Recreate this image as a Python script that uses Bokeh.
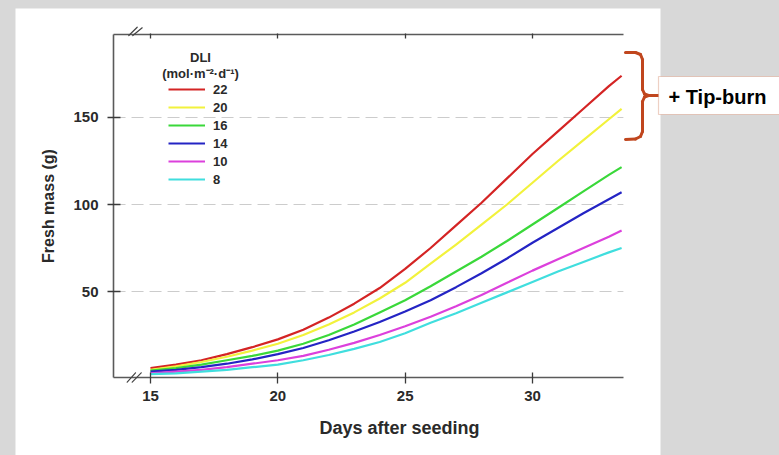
from bokeh.plotting import figure
from bokeh.models import (Range1d, LinearAxis, FixedTicker, Legend, LegendItem, Label,
                          BoxAnnotation, Arrow, GlobalInlineStyleSheet)
from bokeh.embed import file_html
from bokeh.resources import INLINE

# ---- data ----
days = [15, 16, 17, 18, 19, 20, 21, 22, 23, 24, 25, 26, 27, 28, 29, 30, 31, 32, 33, 33.5]
dli22 = [6, 8, 10.5, 14, 18, 22.5, 28, 35, 43, 52, 63, 75, 88, 101, 115, 129, 142, 155, 168, 174]
dli20 = [5, 7, 9.5, 12.5, 16, 20, 25, 31, 38, 46, 55, 66, 77, 88.5, 100, 112.5, 125, 137, 149, 155]
dli16 = [4.5, 6, 8, 10.5, 13, 16, 20, 25, 31, 38, 45, 53, 61.5, 70, 79, 88.5, 98, 107.5, 117, 121.5]
dli14 = [4, 5, 6.5, 8.5, 11, 14, 17.5, 22, 27, 32.5, 38.5, 45, 52.5, 60.5, 69, 78, 86.5, 95, 103, 107]
dli10 = [3, 4, 5, 6.5, 8.5, 10.5, 13, 16.5, 20.5, 25, 30, 35.5, 41.5, 48, 55, 62, 68.5, 75, 81.5, 85]
dli8 = [2.5, 3, 4, 5, 6.5, 8, 10.5, 13.5, 17, 21, 26, 32, 37.5, 43.5, 49.5, 55.5, 61.5, 67, 72.5, 75]
series_labels = ["22", "20", "16", "14", "10", "8"]
series_values = [dli22, dli20, dli16, dli14, dli10, dli8]
series_colors = ["#d42424", "#f2f23c", "#3ad83a", "#2424c4", "#dc40dc", "#40dede"]
x_ticks = [15, 20, 25, 30]
y_ticks = [50, 100, 150]
x_lo, x_hi = 13.55, 33.57      # extent of the drawn axes
y_lo, y_hi = 0.6, 197.7
x_title = "Days after seeding"
y_title = "Fresh mass (g)"
legend_title = ["DLI", "(mol·m⁻²·d⁻¹)"]
callout_text = "+ Tip-burn"

FONT = "Liberation Sans"
TXT = "#2a2a2a"
AX = "#5a5a5a"
BG = "#d8d8d8"
W, H = 779, 455

# the frame covers the whole canvas; axes are pinned at fixed locations inside it
p = figure(frame_width=W, frame_height=H, output_backend="svg", toolbar_location=None,
           x_range=Range1d(9.111, 39.70), y_range=Range1d(-44.25, 217.24),
           min_border=0, border_fill_color=BG, background_fill_color=BG,
           outline_line_color=None, x_axis_location=None, y_axis_location=None)
p.stylesheets = [GlobalInlineStyleSheet(css="body{background:%s;}" % BG)]
p.xgrid.visible = False
p.ygrid.visible = False

# white panel behind the chart (screen px from bottom-left of canvas)
panel = BoxAnnotation(left=15, right=660, top=H - 8, bottom=-10,
                      left_units="screen", right_units="screen", top_units="screen", bottom_units="screen",
                      fill_color="white", fill_alpha=1, line_color=None, level="image")
p.add_layout(panel)

def style_axis(ax):
    ax.axis_line_color = AX
    ax.axis_line_width = 1.6
    ax.major_tick_line_color = "#3a3a3a"
    ax.major_tick_line_width = 1.3
    ax.minor_tick_line_color = None
    ax.major_label_text_font = FONT
    ax.major_label_text_font_style = "bold"
    ax.major_label_text_font_size = "15px"
    ax.major_label_text_color = TXT
    ax.axis_label_text_font = FONT
    ax.axis_label_text_font_style = "bold"
    ax.axis_label_text_color = TXT

xb = LinearAxis(ticker=FixedTicker(ticks=x_ticks), fixed_location=y_lo, bounds=(x_lo, x_hi))
style_axis(xb)
xb.major_tick_in = 5
xb.major_tick_out = 6
xb.major_label_standoff = 8
p.add_layout(xb, "below")

xt = LinearAxis(ticker=FixedTicker(ticks=x_ticks), fixed_location=y_hi, bounds=(x_lo, x_hi),
                major_label_overrides={t: "" for t in x_ticks})
style_axis(xt)
xt.major_tick_in = 4
xt.major_tick_out = 1
p.add_layout(xt, "above")

yl = LinearAxis(ticker=FixedTicker(ticks=y_ticks), fixed_location=x_lo, bounds=(y_lo, y_hi),
                axis_label=y_title)
style_axis(yl)
yl.major_tick_in = 7
yl.major_tick_out = 6
yl.major_label_standoff = 9
yl.axis_label_standoff = 13
yl.axis_label_text_font_size = "16px"
p.add_layout(yl, "left")

# x-axis title (off-centre in the reference)
p.add_layout(Label(x=399, y=H - 427, x_units="screen", y_units="screen", text=x_title,
                   text_align="center", text_baseline="middle", text_font=FONT,
                   text_font_style="bold", text_font_size="18px", text_color=TXT))

# dashed horizontal gridlines across the plotting area
p.segment(x0=[x_lo] * len(y_ticks), x1=[x_hi] * len(y_ticks), y0=y_ticks, y1=y_ticks,
          line_color="#cccccc", line_dash="12 6", line_width=1)

# curves
items = []
for lab, vals, col in zip(series_labels, series_values, series_colors):
    r = p.line(days, vals, line_color=col, line_width=2.2, line_join="round")
    items.append(LegendItem(label=lab, renderers=[r]))

legend = Legend(items=items, location=(168, 267), border_line_color=None,
                background_fill_alpha=0, padding=0, margin=0, spacing=0,
                glyph_width=37, glyph_height=18, label_height=18, label_standoff=8,
                label_text_font=FONT, label_text_font_style="bold",
                label_text_font_size="13px", label_text_color=TXT)
p.add_layout(legend)

for t, py in zip(legend_title, [56.7, 73.3]):
    p.add_layout(Label(x=200, y=H - py, x_units="screen", y_units="screen", text=t,
                       text_align="center", text_baseline="middle", text_font=FONT,
                       text_font_style="bold", text_font_size="13px", text_color=TXT))

def seg(a, b, color, width):
    p.add_layout(Arrow(x_start=a[0], y_start=H - a[1], x_end=b[0], y_end=H - b[1],
                       start_units="screen", end_units="screen", end=None,
                       line_color=color, line_width=width, line_cap="round", line_join="round"))

# axis break marks (page px)
for a, b in [((126.7, 381.7), (135, 372.3)), ((131.7, 381.7), (140.7, 372.3)),
             ((128.3, 35), (136.7, 26.7)), ((132.3, 35), (141.7, 27.3))]:
    seg(a, b, "#444444", 1.2)

# bracket + callout
bracket = [[(625, 52), (635, 52), (640, 54), (642, 59), (642, 89), (644, 93.5), (648, 95), (658, 95)],
           [(648, 95), (644, 96.5), (642, 101), (642, 131), (640, 136), (635, 138.5), (625, 139)]]
BR = "#c0461e"
for path in bracket:
    for a, b in zip(path[:-1], path[1:]):
        seg(a, b, BR, 3)

box = BoxAnnotation(left=658, right=800, top=H - 76, bottom=H - 114,
                    left_units="screen", right_units="screen", top_units="screen", bottom_units="screen",
                    fill_color="white", fill_alpha=1, line_color="#c8643c", line_width=1.2,
                    level="overlay")
p.add_layout(box)
p.add_layout(Label(x=668, y=H - 96, x_units="screen", y_units="screen", text=callout_text,
                   text_align="left", text_baseline="middle", text_font=FONT,
                   text_font_style="bold", text_font_size="20px", text_color="black",
                   level="overlay"))

open("out.html", "w").write(file_html(p, INLINE))
